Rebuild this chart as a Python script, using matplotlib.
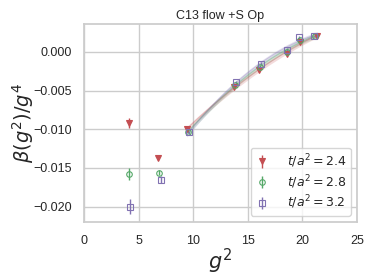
import numpy as np
import matplotlib
matplotlib.use("Agg")
import matplotlib.pyplot as plt
import seaborn as sns

sns.set_theme(style="whitegrid")
plt.rcParams['font.family'] = ['Liberation Sans', 'DejaVu Sans']
plt.rcParams['mathtext.fontset'] = 'dejavusans'

labels = [r'$t/a^2 = 2.4$', r'$t/a^2 = 2.8$', r'$t/a^2 = 3.2$']
colors = ['#C44E52', '#55A868', '#8172B2']
markers = ['v', 'o', 's']

g2_red = [4.13, 6.82, 9.42, 13.70, 16.00, 18.55, 19.80, 21.30]
b_red = [-0.0092, -0.0137, -0.0100, -0.0045, -0.0024, -0.0003, 0.0013, 0.0021]
e_red = [0.0006, 0.0003, 0.0002, 0.0002, 0.0002, 0.0002, 0.0002, 0.0001]

g2_green = [4.13, 6.90, 9.55, 13.80, 16.10, 18.60, 19.80, 21.20]
b_green = [-0.0158, -0.0156, -0.0103, -0.0043, -0.0019, 0.0000, 0.0016, 0.0020]
e_green = [0.0008, 0.0003, 0.0002, 0.0002, 0.0002, 0.0002, 0.0002, 0.0001]

g2_blue = [4.22, 7.06, 9.60, 13.92, 16.20, 18.60, 19.70, 21.10]
b_blue = [-0.0200, -0.0165, -0.0104, -0.0039, -0.0015, 0.0003, 0.0019, 0.0020]
e_blue = [0.0010, 0.0004, 0.0002, 0.0002, 0.0002, 0.0002, 0.0002, 0.0001]

band_halfwidth = [0.0003, 0.0003, 0.0003]
fit_range = [9.4, 21.4]

series = [(g2_red, b_red, e_red), (g2_green, b_green, e_green), (g2_blue, b_blue, e_blue)]

fig = plt.figure(figsize=(3.74, 2.80), dpi=100)
ax = fig.add_axes([0.2246, 0.207, 0.7299, 0.707])

for (x, y, e), c, m, lab, hw in zip(series, colors, markers, labels, band_halfwidth):
    x = np.array(x); y = np.array(y)
    sel = x > 9
    p = np.polyfit(x[sel], y[sel], 2)
    xf = np.linspace(fit_range[0], fit_range[1], 100)
    yf = np.polyval(p, xf)
    ax.fill_between(xf, yf - hw, yf + hw, color=c, alpha=0.2, lw=0)
    ax.plot(xf, yf, color=c, alpha=0.3, lw=0.8)
    mfc = c if m == 'v' else 'none'
    ax.errorbar(x, y, yerr=e, fmt=m, color=c, mfc=mfc, mec=c, ms=4,
                elinewidth=1, mew=0.8, capsize=0, label=lab)

ax.set_xlim(0, 25)
ax.set_ylim(-0.0220, 0.0036)
ax.set_xticks([0, 5, 10, 15, 20, 25])
ax.set_yticks([-0.020, -0.015, -0.010, -0.005, 0.000])
ax.set_yticklabels(['\u22120.020', '\u22120.015', '\u22120.010', '\u22120.005', '0.000'])
ax.tick_params(labelsize=9, colors='.15', pad=3)
ax.set_title('C13 flow +S Op', fontsize=9, pad=4)
ax.set_xlabel(r'$g^2$', fontsize=15, labelpad=0)
ax.set_ylabel(r'$\beta(g^2)/g^4$', fontsize=14, labelpad=-2)
ax.legend(loc='lower right', fontsize=9, frameon=True, handletextpad=1.5,
          borderpad=0.35, labelspacing=0.25, handlelength=1.0)

fig.savefig('out.png', dpi=100)
